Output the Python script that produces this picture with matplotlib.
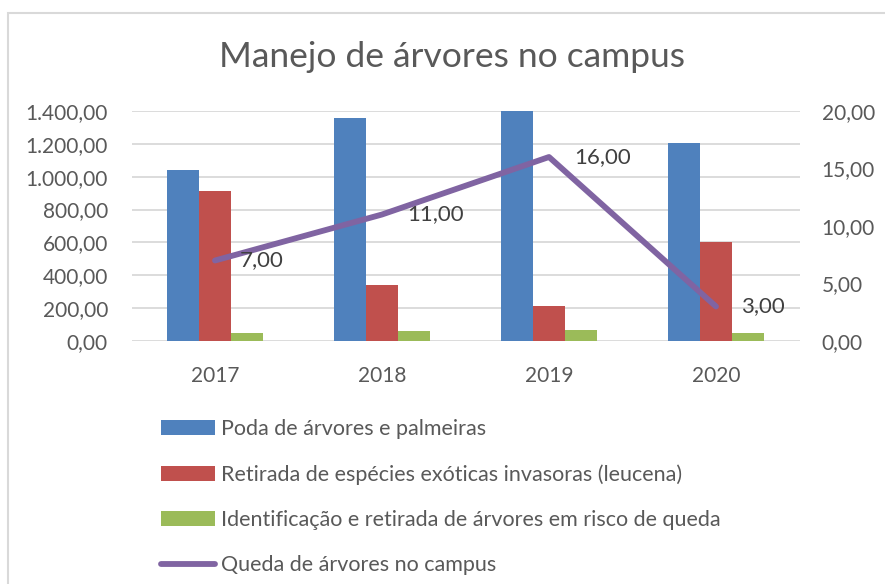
import matplotlib
matplotlib.use("Agg")
import matplotlib.pyplot as plt
import numpy as np
from matplotlib.ticker import FuncFormatter, MultipleLocator
from matplotlib.patches import Rectangle

plt.rcParams['font.family'] = ['Lato', 'DejaVu Sans']

years = ['2017', '2018', '2019', '2020']
poda = [1040, 1355, 1405, 1205]
retirada = [910, 340, 215, 605]
identificacao = [48, 60, 70, 46]
queda = [7, 11, 16, 3]

labels = ['Poda de árvores e palmeiras',
          'Retirada de espécies exóticas invasoras (leucena)',
          'Identificação e retirada de árvores em risco de queda',
          'Queda de árvores no campus']
colors = ['#4F81BD', '#C0504D', '#9BBB59', '#8064A2']
txt = '#595959'

def br(v, pos=None):
    s = f"{v:,.2f}"
    return s.replace(',', 'X').replace('.', ',').replace('X', '.')

W, H = 885, 584
fig = plt.figure(figsize=(W/100, H/100), dpi=100)
ax = fig.add_axes([131.5/W, 1-341/H, (799.5-131.5)/W, (341-111)/H])

x = np.arange(len(years))
bw = 0.193
h1 = ax.bar(x - bw, poda, bw, color=colors[0], zorder=2)
h2 = ax.bar(x, retirada, bw, color=colors[1], zorder=2)
h3 = ax.bar(x + bw, identificacao, bw, color=colors[2], zorder=2)

ax.set_xlim(-0.5, 3.5)
ax.set_ylim(0, 1400)
ax.yaxis.set_major_locator(MultipleLocator(200))
ax.yaxis.set_major_formatter(FuncFormatter(br))
ax.set_xticks(x)
ax.set_xticklabels(years)
ax.grid(axis='y', color='#D9D9D9', lw=1.3, zorder=0)
for s in ax.spines.values():
    s.set_visible(False)
ax.tick_params(axis='both', length=0, labelsize=15, colors=txt)
ax.tick_params(axis='y', pad=17)
ax.tick_params(axis='x', pad=18)

ax2 = ax.twinx()
ax2.set_ylim(0, 20)
ax2.yaxis.set_major_locator(MultipleLocator(5))
ax2.yaxis.set_major_formatter(FuncFormatter(br))
for s in ax2.spines.values():
    s.set_visible(False)
ax2.tick_params(axis='y', length=0, labelsize=15, colors=txt, pad=16)
h4, = ax2.plot(x, queda, color=colors[3], lw=4.2, solid_capstyle='round', zorder=3)
for xi, v in zip(x, queda):
    ax2.annotate(br(v), (xi, v), xytext=(25, 0), textcoords='offset pixels',
                 ha='left', va='center', fontsize=16, color='#404040')

fig.text(452/W, 1-57/H, 'Manejo de árvores no campus', ha='center', va='center',
         fontsize=25.5, color=txt)

leg = fig.legend([h1, h2, h3, h4], labels, loc='upper left',
                 bbox_to_anchor=(161/W, 1-419/H), frameon=False, fontsize=15.5,
                 labelcolor=txt, handlelength=2.5, handleheight=0.7,
                 handletextpad=0.3, labelspacing=1.17, borderpad=0, borderaxespad=0)

fig.patches.append(Rectangle((8/W, -0.1), 1.2, 1-13/H+0.1, transform=fig.transFigure,
                             fill=False, edgecolor='#D9D9D9', lw=1.5))

fig.savefig('out.png', dpi=100)
